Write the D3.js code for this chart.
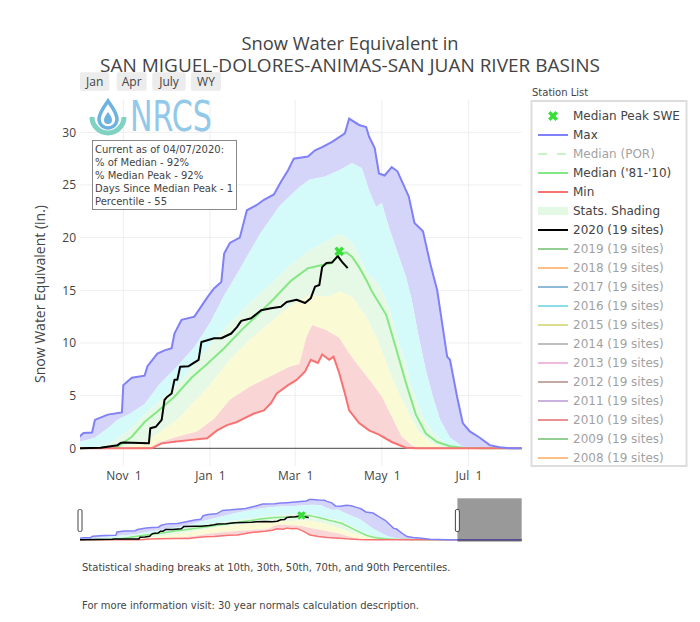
<!DOCTYPE html>
<html><head><meta charset="utf-8">
<script src="https://cdn.jsdelivr.net/npm/d3@7"></script>
<style>
html,body{margin:0;padding:0;background:#fff;}
svg{display:block;}
</style></head><body>
<svg id="chart" width="700" height="622"></svg>
<script>
// ---------------- DATA ----------------
const maxSWE = [["2019-10-01",1.1],["2019-10-04",1.45],["2019-10-10",1.5],["2019-10-12",2.7],["2019-10-21",3.2],["2019-10-31",3.4],["2019-11-01",6.0],["2019-11-07",6.7],["2019-11-16",6.9],["2019-11-18",7.8],["2019-11-25",9.0],["2019-11-30",9.3],["2019-12-05",9.5],["2019-12-07",10.9],["2019-12-12",12.2],["2019-12-21",12.5],["2019-12-26",13.5],["2019-12-30",14.3],["2020-01-04",15.2],["2020-01-09",15.8],["2020-01-11",18.5],["2020-01-15",19.5],["2020-01-22",20.0],["2020-01-27",22.6],["2020-02-03",23.1],["2020-02-08",23.6],["2020-02-15",24.1],["2020-02-20",25.3],["2020-02-25",26.4],["2020-02-29",27.5],["2020-03-10",27.7],["2020-03-15",28.3],["2020-03-20",28.6],["2020-03-27",29.1],["2020-04-05",29.9],["2020-04-08",31.3],["2020-04-15",30.7],["2020-04-20",30.5],["2020-04-22",29.6],["2020-04-26",28.5],["2020-04-29",26.1],["2020-05-03",25.9],["2020-05-08",26.7],["2020-05-12",26.3],["2020-05-17",24.8],["2020-05-20",23.9],["2020-05-24",21.4],["2020-05-30",20.6],["2020-06-04",17.6],["2020-06-09",15.0],["2020-06-16",8.7],["2020-06-18",8.4],["2020-06-23",4.9],["2020-06-27",2.4],["2020-07-02",1.6],["2020-07-09",1.0],["2020-07-16",0.3],["2020-07-23",0.1],["2020-07-30",0],["2020-09-30",0]];
const pct90 = [["2019-10-01",0.6],["2019-10-12",1.0],["2019-10-22",2.0],["2019-10-28",2.7],["2019-11-06",3.3],["2019-11-16",4.2],["2019-11-26",6.0],["2019-12-09",7.8],["2019-12-21",9.6],["2020-01-01",11.9],["2020-01-11",14.5],["2020-01-22",17.0],["2020-02-05",20.3],["2020-02-19",23.0],["2020-03-04",24.8],["2020-03-11",25.5],["2020-03-22",25.8],["2020-04-01",26.4],["2020-04-10",27.1],["2020-04-17",26.6],["2020-04-22",24.5],["2020-04-27",22.9],["2020-05-01",23.3],["2020-05-06",21.0],["2020-05-13",18.2],["2020-05-18",16.3],["2020-05-22",14.1],["2020-05-27",10.6],["2020-06-01",7.4],["2020-06-06",4.9],["2020-06-11",2.7],["2020-06-18",1.0],["2020-06-27",0.15],["2020-07-05",0],["2020-09-30",0]];
const pct70 = [["2019-10-01",0],["2019-10-16",0.2],["2019-10-23",0.5],["2019-11-06",1.8],["2019-11-16",3.2],["2019-12-09",6.0],["2020-01-01",9.8],["2020-01-15",11.9],["2020-01-29",13.8],["2020-02-12",15.5],["2020-02-26",17.3],["2020-03-11",18.8],["2020-03-25",19.8],["2020-04-01",20.4],["2020-04-10",19.6],["2020-04-20",16.8],["2020-04-29",15.5],["2020-05-06",13.4],["2020-05-13",10.0],["2020-05-18",8.0],["2020-05-22",5.8],["2020-05-30",3.0],["2020-06-06",1.5],["2020-06-16",0.3],["2020-06-25",0.08],["2020-07-10",0],["2020-09-30",0]];
const pct30 = [["2019-10-01",0],["2019-10-28",0.05],["2019-11-16",0.5],["2019-12-09",2.7],["2020-01-01",6.0],["2020-01-15",8.4],["2020-01-29",10.3],["2020-02-12",11.9],["2020-02-26",13.45],["2020-03-11",14.55],["2020-03-25",14.4],["2020-04-01",14.9],["2020-04-10",14.4],["2020-04-20",12.5],["2020-04-29",10.0],["2020-05-06",7.4],["2020-05-13",5.2],["2020-05-20",3.3],["2020-05-27",1.6],["2020-06-04",0.6],["2020-06-11",0.1],["2020-06-20",0],["2020-09-30",0]];
const pct10 = [["2019-10-01",0],["2019-11-19",0],["2019-11-25",0.5],["2019-12-09",1.1],["2019-12-23",1.6],["2020-01-04",2.8],["2020-01-15",4.6],["2020-01-29",5.85],["2020-02-12",6.8],["2020-02-26",7.75],["2020-03-04",8.0],["2020-03-09",10.6],["2020-03-13",11.7],["2020-03-23",11.2],["2020-04-01",10.5],["2020-04-08",9.0],["2020-04-15",7.75],["2020-04-24",6.2],["2020-05-01",4.9],["2020-05-08",3.0],["2020-05-15",1.1],["2020-05-22",0.3],["2020-05-27",0],["2020-09-30",0]];
const minSWE = [["2019-10-01",0],["2019-11-21",0],["2019-11-28",0.47],["2019-12-07",0.63],["2019-12-19",0.8],["2019-12-30",0.95],["2020-01-06",1.7],["2020-01-13",2.2],["2020-01-20",2.5],["2020-01-25",2.85],["2020-02-01",3.3],["2020-02-08",3.6],["2020-02-13",4.3],["2020-02-17",5.2],["2020-02-25",6.0],["2020-03-02",6.5],["2020-03-08",7.3],["2020-03-12",8.4],["2020-03-17",8.1],["2020-03-20",8.9],["2020-03-25",8.4],["2020-03-28",8.7],["2020-04-01",7.15],["2020-04-05",5.2],["2020-04-08",3.6],["2020-04-15",2.4],["2020-04-22",1.7],["2020-04-29",1.3],["2020-05-08",0.6],["2020-05-18",0.05],["2020-05-25",0],["2020-09-30",0]];
const medianSWE = [["2019-10-01",0],["2019-10-16",0.05],["2019-10-28",0.15],["2019-11-07",1.1],["2019-11-16",2.5],["2019-11-25",3.5],["2019-12-07",4.9],["2019-12-19",6.7],["2019-12-30",8.0],["2020-01-11",9.5],["2020-01-23",11.2],["2020-02-03",12.6],["2020-02-15",14.2],["2020-02-27",15.9],["2020-03-10",17.1],["2020-03-20",17.4],["2020-03-27",17.6],["2020-04-01",18.45],["2020-04-06",18.6],["2020-04-10",18.2],["2020-04-15",17.2],["2020-04-20",16.0],["2020-04-24",14.9],["2020-05-04",12.7],["2020-05-11",9.5],["2020-05-18",6.2],["2020-05-25",3.2],["2020-06-01",1.4],["2020-06-09",0.6],["2020-06-18",0.2],["2020-06-27",0.05],["2020-07-10",0],["2020-09-30",0]];
const wy2020 = [["2019-10-01",0],["2019-10-16",0.05],["2019-10-28",0.3],["2019-10-30",0.5],["2019-11-01",0.55],["2019-11-19",0.47],["2019-11-20",1.9],["2019-11-24",2.05],["2019-11-28",2.7],["2019-11-30",4.6],["2019-12-02",4.9],["2019-12-05",5.2],["2019-12-07",6.5],["2019-12-09",6.5],["2019-12-11",7.75],["2019-12-17",7.8],["2019-12-24",8.4],["2019-12-26",10.1],["2020-01-04",10.45],["2020-01-09",10.45],["2020-01-16",10.9],["2020-01-20",11.5],["2020-01-23",12.1],["2020-01-30",12.35],["2020-02-06",13.1],["2020-02-13",13.3],["2020-02-20",13.45],["2020-02-24",13.9],["2020-03-02",14.1],["2020-03-08",13.8],["2020-03-12",14.25],["2020-03-15",15.35],["2020-03-18",15.5],["2020-03-20",17.2],["2020-03-23",17.6],["2020-03-27",17.65],["2020-03-31",18.25],["2020-04-03",17.7],["2020-04-07",17.1]];
const medianPeak = [["2020-04-01",18.7]];

const yTicks = [0,5,10,15,20,25,30];
const xTickDates = ["2019-11-01","2020-01-01","2020-03-01","2020-05-01","2020-07-01"];
const xTickLabels = ["Nov  1","Jan  1","Mar  1","May  1","Jul  1"];
const buttonLabels = ["Jan","Apr","July","WY"];
const titleLines = ["Snow Water Equivalent in","SAN MIGUEL-DOLORES-ANIMAS-SAN JUAN RIVER BASINS"];
const infoLines = ["Current as of 04/07/2020:","% of Median - 92%","% Median Peak - 92%","Days Since Median Peak - 1","Percentile - 55"];
const legendLabels = ["Median Peak SWE","Max","Median (POR)","Median ('81-'10)","Min","Stats. Shading","2020 (19 sites)","2019 (19 sites)","2018 (19 sites)","2017 (19 sites)","2016 (19 sites)","2015 (19 sites)","2014 (19 sites)","2013 (19 sites)","2012 (19 sites)","2011 (19 sites)","2010 (19 sites)","2009 (19 sites)","2008 (19 sites)"];
const footLines = ["Statistical shading breaks at 10th, 30th, 50th, 70th, and 90th Percentiles.","For more information visit: 30 year normals calculation description."];

// ---------------- STYLES ----------------
const C = {max:"#8080f8", min:"#f87272", median:"#84e884", cur:"#000000", peak:"#36e036",
  fMax:"#d5d5fa", fCyan:"#d5fafa", fGreen:"#e6f9e6", fYellow:"#fafad5", fPink:"#fad5d5"};
const legendStyle = [
 {kind:"x", color:C.peak, on:true},{kind:"line", color:C.max, on:true},{kind:"dash", color:"#90e890", on:false},
 {kind:"line", color:C.median, on:true},{kind:"line", color:C.min, on:true},{kind:"fill", color:"#e4f9e4", on:true},
 {kind:"line", color:"#000", on:true},{kind:"line", color:"#2ca02c", on:false},{kind:"line", color:"#ff7f0e", on:false},
 {kind:"line", color:"#1f77b4", on:false},{kind:"line", color:"#17becf", on:false},{kind:"line", color:"#bcbd22", on:false},
 {kind:"line", color:"#7f7f7f", on:false},{kind:"line", color:"#e377c2", on:false},{kind:"line", color:"#8c564b", on:false},
 {kind:"line", color:"#9467bd", on:false},{kind:"line", color:"#d62728", on:false},{kind:"line", color:"#2ca02c", on:false},
 {kind:"line", color:"#ff7f0e", on:false}];

const parse = d3.timeParse("%Y-%m-%d");
const parseT = d3.timeParse("%Y-%m-%dT%H:%M");
const prep = a => a.map(d => [parse(d[0]), d[1]]);
const S = {max:prep(maxSWE), p90:prep(pct90), p70:prep(pct70), p30:prep(pct30), p10:prep(pct10), min:prep(minSWE), med:prep(medianSWE), cur:prep(wy2020), peak:prep(medianPeak)};

const svg = d3.select("#chart");
const OS = "'Open Sans', sans-serif", DV = "'DejaVu Sans', Verdana, sans-serif";
const L = 80, R = 521.7, T = 100, B = 466;

const x = d3.scaleTime().domain([parseT("2019-10-01T12:00"), parseT("2020-08-07T12:00")]).range([L, R]);
const y = d3.scaleLinear().domain([-1.68, 33.07]).range([B, T]);
const xs = d3.scaleTime().domain([parseT("2019-10-01T12:00"), parseT("2020-09-29T12:00")]).range([L, R]);
const ys = d3.scaleLinear().domain([-1.6, 32]).range([541.7, 498.3]);

const defs = svg.append("defs");
defs.append("clipPath").attr("id","plotclip").append("rect").attr("x",L).attr("y",T).attr("width",R-L).attr("height",B-T);
defs.append("clipPath").attr("id","slclip").append("rect").attr("x",L).attr("y",498.3).attr("width",R-L).attr("height",43.4);
defs.append("clipPath").attr("id","legclip").append("rect").attr("x",531).attr("y",101).attr("width",156).attr("height",365);

// grid
const grid = svg.append("g");
grid.selectAll(".hg").data(yTicks.filter(v=>v!==0)).join("line")
  .attr("x1",L).attr("x2",R).attr("y1",d=>y(d)).attr("y2",d=>y(d)).attr("stroke","#eee").attr("stroke-width",1);
grid.selectAll(".vg").data(xTickDates.map(parse)).join("line")
  .attr("x1",d=>x(d)).attr("x2",d=>x(d)).attr("y1",T).attr("y2",B).attr("stroke","#eee").attr("stroke-width",1);

function drawSeries(g, xsc, ysc){
  const line = d3.line().x(d=>xsc(d[0])).y(d=>ysc(d[1]));
  const band = (u,l) => line(u.concat(l.slice().reverse())) + "Z";
  [[S.max,S.p90,C.fMax],[S.p90,S.p70,C.fCyan],[S.p70,S.p30,C.fGreen],[S.p30,S.p10,C.fYellow],[S.p10,S.min,C.fPink]]
    .forEach(b => g.append("path").attr("d", band(b[0],b[1])).attr("fill", b[2]).attr("stroke","none"));
}
function drawLines(g, xsc, ysc, lw, msize){
  const line = d3.line().x(d=>xsc(d[0])).y(d=>ysc(d[1]));
  g.append("path").attr("d",line(S.med)).attr("fill","none").attr("stroke",C.median).attr("stroke-width",lw);
  g.append("path").attr("d",line(S.min)).attr("fill","none").attr("stroke",C.min).attr("stroke-width",lw);
  g.append("path").attr("d",line(S.max)).attr("fill","none").attr("stroke",C.max).attr("stroke-width",lw);
  g.append("path").attr("d",line(S.cur)).attr("fill","none").attr("stroke",C.cur).attr("stroke-width",lw).attr("stroke-linejoin","round");
  g.selectAll(".pk").data(S.peak).join("path")
    .attr("d", d3.symbol(d3.symbolCross, msize)())
    .attr("transform", d=>`translate(${xsc(d[0])},${ysc(d[1])}) rotate(45)`)
    .attr("fill", C.peak);
}

// main plot
const pg = svg.append("g").attr("clip-path","url(#plotclip)");
drawSeries(pg, x, y);
pg.append("line").attr("x1",L).attr("x2",R).attr("y1",y(0)).attr("y2",y(0)).attr("stroke","#444").attr("stroke-width",1);
drawLines(pg, x, y, 2, 60);

// axes
const yAx = svg.append("g").attr("transform",`translate(${L},0)`)
  .call(d3.axisLeft(y).tickValues(yTicks).tickSize(0).tickPadding(4));
yAx.select(".domain").remove();
yAx.selectAll("text").attr("font-family",OS).attr("font-size",12).attr("fill","#444");
const xAx = svg.append("g").attr("transform",`translate(0,${B})`)
  .call(d3.axisBottom(x).tickValues(xTickDates.map(parse)).tickFormat((d,i)=>xTickLabels[i]).tickSize(0).tickPadding(5));
xAx.select(".domain").remove();
xAx.selectAll("text").attr("font-family",OS).attr("font-size",12).attr("fill","#444").style("white-space","pre");

svg.append("text").attr("transform","translate(45,294) rotate(-90)").attr("text-anchor","middle")
  .attr("font-family",OS).attr("font-size",14).attr("fill","#444").text("Snow Water Equivalent (in.)");

// title
const titleW = [217, 500];
svg.selectAll(".title").data(titleLines).join("text")
  .attr("x",350).attr("y",(d,i)=>50+i*22).attr("text-anchor","middle")
  .attr("font-family",OS).attr("font-size",18.5).attr("fill","#444")
  .attr("textLength",(d,i)=>titleW[i]).attr("lengthAdjust","spacingAndGlyphs").text(d=>d);

// buttons
const btnX = [80,116.7,152.3,191], btnW = [29.3,30,33.4,30];
const bg = svg.append("g");
buttonLabels.forEach((b,i)=>{
  bg.append("rect").attr("x",btnX[i]).attr("y",72.3).attr("width",btnW[i]).attr("height",18.4).attr("rx",2).attr("fill","#ececec");
  bg.append("text").attr("x",btnX[i]+btnW[i]/2).attr("y",86).attr("text-anchor","middle")
    .attr("font-family",OS).attr("font-size",12).attr("fill","#444").text(b);
});

// logo
const lg = svg.append("g");
lg.append("path").attr("d","M92,117 A16,16 0 0 0 124,117").attr("fill","none").attr("stroke","#80d2c2").attr("stroke-width",5);
lg.append("path").attr("d","M108,101 C104,107 99,113 99,119 A9,9 0 0 0 117,119 C117,113 112,107 108,101 Z").attr("fill","none").attr("stroke","#6db3df").attr("stroke-width",3.5);
lg.append("path").attr("d","M108,112 C106,115 104,117 104,120 A4,4 0 0 0 112,120 C112,117 110,115 108,112 Z").attr("fill","#6db3df");
lg.append("text").attr("x",130).attr("y",131).attr("font-family","'Liberation Sans Narrow','DejaVu Sans Condensed',sans-serif")
  .attr("font-size",42).attr("fill","#92c8e8").attr("textLength",82).attr("lengthAdjust","spacingAndGlyphs").text("NRCS");

// info box
svg.append("rect").attr("x",92.5).attr("y",140.5).attr("width",144).attr("height",69).attr("fill","#fff").attr("stroke","#888").attr("stroke-width",1);
svg.selectAll(".info").data(infoLines).join("text")
  .attr("x",95).attr("y",(d,i)=>152.7+i*13).attr("font-family",DV).attr("font-size",10).attr("fill","#444").text(d=>d);

// legend
svg.append("text").attr("x",532).attr("y",95.5).attr("font-family",DV).attr("font-size",10).attr("fill","#444").text("Station List");
const leg = svg.append("g");
leg.append("rect").attr("x",531.5).attr("y",101).attr("width",155).attr("height",365).attr("fill","#fff");
const items = leg.append("g").attr("clip-path","url(#legclip)");
legendLabels.forEach((lab,i)=>{
  const st = legendStyle[i], cy = 116 + i*19;
  const it = items.append("g").attr("opacity", st.on ? 1 : 0.5);
  if (st.kind === "x") it.append("path").attr("d", d3.symbol(d3.symbolCross,60)()).attr("transform",`translate(553,${cy}) rotate(45)`).attr("fill",st.color);
  else if (st.kind === "fill") it.append("rect").attr("x",538).attr("y",cy-4).attr("width",30).attr("height",8).attr("fill",st.color);
  else it.append("line").attr("x1",538).attr("x2",568).attr("y1",cy).attr("y2",cy).attr("stroke",st.color).attr("stroke-width",2)
        .attr("stroke-dasharray", st.kind==="dash" ? "9,10" : null);
  it.append("text").attr("x",573).attr("y",cy).attr("dy","0.36em").attr("font-family",DV).attr("font-size",12).attr("fill","#444").text(lab);
});
leg.append("rect").attr("x",531.5).attr("y",101).attr("width",155).attr("height",365).attr("fill","none").attr("stroke","#ddd").attr("stroke-width",2);

// range slider
const sg = svg.append("g").attr("clip-path","url(#slclip)");
drawSeries(sg, xs, ys);
drawLines(sg, xs, ys, 1.5, 45);
const mx = xs(x.domain()[1]);
svg.append("rect").attr("x",mx).attr("y",498.3).attr("width",R-mx).attr("height",43.4).attr("fill","rgba(0,0,0,0.4)");
[L, mx].forEach(hx => svg.append("rect").attr("x",hx-2).attr("y",509.5).attr("width",4).attr("height",22).attr("rx",1.5)
  .attr("fill","#fff").attr("stroke","#444").attr("stroke-width",1));

// footer
svg.selectAll(".foot").data(footLines).join("text")
  .attr("x",82).attr("y",(d,i)=>570.7+i*38.6).attr("font-family",DV).attr("font-size",10).attr("fill","#444").text(d=>d);
</script>
</body></html>
